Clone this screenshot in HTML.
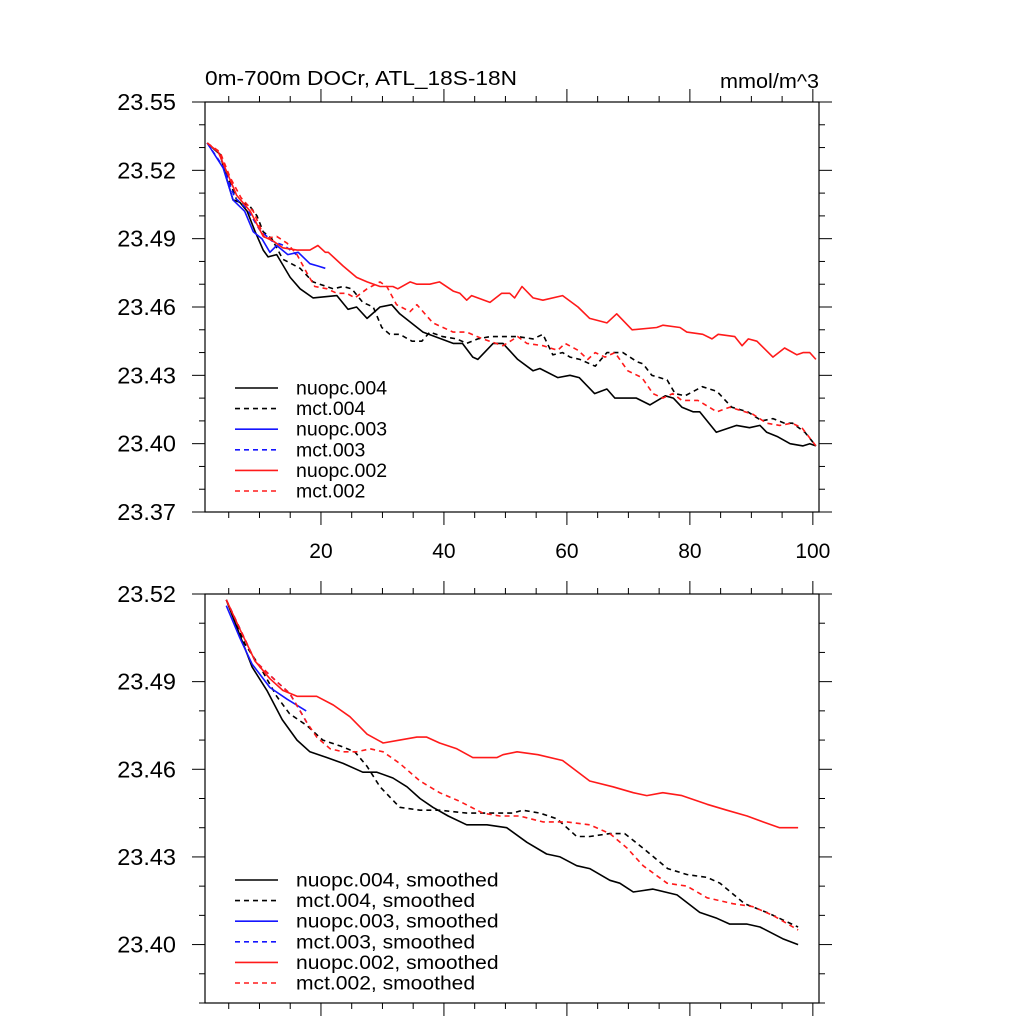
<!DOCTYPE html>
<html><head><meta charset="utf-8">
<style>
html,body{margin:0;padding:0;background:#fff;}
svg{display:block;font-family:"Liberation Sans",Arial,sans-serif;}
</style></head>
<body>
<svg id="chart" width="1024" height="1024" viewBox="0 0 1024 1024" xmlns="http://www.w3.org/2000/svg">
<text id="title" x="205" y="85" font-size="20" textLength="312" lengthAdjust="spacingAndGlyphs">0m-700m DOCr, ATL_18S-18N</text>
<text id="units" x="720" y="88" font-size="20" textLength="99" lengthAdjust="spacingAndGlyphs">mmol/m^3</text>
<g id="top"></g>
<g id="bot"></g>
</svg>
<script>
// ---- data: top panel (raw) ----
const nuopc004X = [1.5,3.6,4.7,5.7,6.8,8,9.3,10.6,11.4,12.8,15,16.6,18.7,22.6,24.4,25.8,27.5,29.6,31.5,32.8,36.6,41.5,43,44.7,45.5,48,49.6,52,54.5,55.6,58.5,60.5,62,64.5,66.5,67.8,71.3,73.5,76,77.3,78.7,80.5,81.6,84.3,87.6,89.7,91.4,92.5,94.3,96.3,98.4,99.5,100.5];
const nuopc004Y = [23.532,23.527,23.516,23.507,23.506,23.502,23.493,23.485,23.482,23.483,23.473,23.468,23.464,23.465,23.459,23.460,23.455,23.460,23.461,23.457,23.449,23.444,23.444,23.438,23.437,23.444,23.444,23.437,23.432,23.433,23.429,23.430,23.429,23.422,23.424,23.420,23.420,23.417,23.421,23.420,23.416,23.414,23.414,23.405,23.408,23.407,23.408,23.405,23.403,23.400,23.399,23.400,23.399];
const mct004X = [1.5,3.6,4.7,6.3,8.5,9.6,10.6,12,13.8,16.6,18.7,22,23.6,25,26.8,28.5,29.9,31.2,32.8,34.8,36.4,37.7,39.8,42.1,43.7,45.5,47.5,49.9,52,54.5,56.1,57.7,59.3,60.5,62.1,64.6,66.5,69.1,71.4,72.4,73.8,76.3,77.6,79.2,82,84.4,86.8,89.4,91.7,93.5,95.4,96.7,98.7,100.5];
const mct004Y = [23.532,23.527,23.518,23.507,23.504,23.500,23.493,23.490,23.481,23.477,23.471,23.468,23.469,23.468,23.462,23.460,23.451,23.448,23.448,23.445,23.445,23.449,23.447,23.446,23.444,23.446,23.447,23.447,23.447,23.446,23.448,23.439,23.440,23.438,23.437,23.434,23.440,23.440,23.436,23.435,23.430,23.428,23.422,23.421,23.425,23.423,23.416,23.414,23.410,23.411,23.409,23.409,23.405,23.399];
const nuopc003X = [1.5,4.1,5.7,7.6,9,10.4,11.7,12.8,14.6,16.3,18.2,19.5,20.7];
const nuopc003Y = [23.532,23.521,23.507,23.502,23.493,23.490,23.484,23.487,23.483,23.484,23.479,23.478,23.477];
const mct003X = [1.5,4,6,8,10,12,14,16];
const mct003Y = [23.532,23.522,23.508,23.503,23.494,23.489,23.487,23.483];
const nuopc002X = [1.5,3.3,5.2,6.3,8.5,10.6,12.2,13.8,16.1,18.2,19.5,20.7,21.2,23.6,25.8,27.5,29.6,31.7,32.5,34.5,35.6,37.7,39.3,41.5,42.6,43.7,44.5,47.5,49.4,50.7,51.5,52.7,54.5,56.1,59.3,61.8,63.7,66.5,68.1,70.6,74.6,75.6,78.4,79.5,82.1,83.6,84.6,87.3,88.5,89.5,90.9,93.5,95.4,97.4,98.4,99.5,100.5];
const nuopc002Y = [23.532,23.528,23.516,23.509,23.502,23.491,23.489,23.486,23.485,23.485,23.487,23.484,23.484,23.478,23.473,23.471,23.469,23.469,23.468,23.471,23.470,23.470,23.471,23.467,23.466,23.463,23.465,23.462,23.466,23.466,23.464,23.469,23.464,23.463,23.465,23.460,23.455,23.453,23.457,23.450,23.451,23.452,23.451,23.449,23.448,23.446,23.448,23.447,23.443,23.446,23.445,23.438,23.442,23.439,23.440,23.440,23.437];
const mct002X = [1.5,3.6,5.2,7,9,10.9,12.8,14.5,16.1,17.7,19,21,22.6,24.2,25.5,27.5,29.6,30.7,32.3,34.5,35.6,38.2,41.5,43.7,46.3,49.6,52,53.5,56.1,58.5,59.7,61.8,63.4,64.6,66.2,67.8,69.9,72.2,74,75.6,77.2,78.7,81.3,84.4,86.5,90.2,92.5,94.6,96.6,98.2,100.5];
const mct002Y = [23.532,23.528,23.517,23.508,23.502,23.490,23.491,23.488,23.483,23.475,23.469,23.468,23.466,23.466,23.464,23.468,23.471,23.469,23.461,23.458,23.461,23.453,23.449,23.449,23.446,23.443,23.447,23.444,23.443,23.441,23.444,23.441,23.437,23.440,23.438,23.440,23.432,23.429,23.422,23.420,23.422,23.419,23.419,23.414,23.416,23.413,23.409,23.408,23.409,23.407,23.399];
// ---- data: bottom panel (smoothed) ----
const sNuopc004X = [4.6,8.8,11.2,13.7,16.1,18.2,21,23.6,26.8,29.1,31.7,34,36.1,38.2,40.7,43.7,47,50.2,53.5,56.7,58.9,61.6,63.7,67,68.6,70.8,74,77.9,81.6,84.4,86.5,89.3,91.4,95.1,97.6];
const sNuopc004Y = [23.518,23.495,23.487,23.477,23.470,23.466,23.464,23.462,23.459,23.459,23.457,23.454,23.450,23.447,23.444,23.441,23.441,23.440,23.435,23.431,23.430,23.427,23.426,23.422,23.421,23.418,23.419,23.417,23.411,23.409,23.407,23.407,23.406,23.402,23.400];
const sMct004X = [4.6,7.6,10.1,12.8,14.9,17.7,20.3,23.1,25.5,27.5,29.6,32.8,36.1,39.3,43.7,47,51.2,52.8,55.6,58.4,61.6,63.7,67,69.4,72.4,76.4,79.5,82.8,84.9,88.9,92.5,97.6];
const sMct004Y = [23.518,23.503,23.495,23.485,23.479,23.475,23.470,23.468,23.466,23.461,23.454,23.447,23.446,23.446,23.445,23.445,23.445,23.446,23.445,23.443,23.437,23.437,23.438,23.438,23.433,23.426,23.424,23.423,23.421,23.414,23.411,23.406];
const sNuopc003X = [4.6,6.8,8.8,11.7,14.5,17.6];
const sNuopc003Y = [23.516,23.505,23.496,23.488,23.484,23.480];
const sMct003X = [4.6,9.3,12.8,14.9,16.6,17.7];
const sMct003Y = [23.518,23.497,23.490,23.486,23.480,23.476];
const sNuopc002X = [4.6,6.8,9.3,11.7,13.8,16.1,19.3,22,24.7,27.5,30.1,32.8,35.6,37.2,39.3,42.1,44.7,47,48.6,49.6,51.9,55.3,59.3,63.7,67.5,70.8,73,75.6,78.7,82.8,86,89.3,91.9,94.6,97.6];
const sNuopc002Y = [23.518,23.508,23.497,23.491,23.487,23.485,23.485,23.482,23.478,23.472,23.469,23.470,23.471,23.471,23.469,23.467,23.464,23.464,23.464,23.465,23.466,23.465,23.463,23.456,23.454,23.452,23.451,23.452,23.451,23.448,23.446,23.444,23.442,23.440,23.440];
const sMct002X = [4.6,9.3,12.8,14.9,16.6,17.7,19.3,21.5,23.6,25.8,28,30.1,32.8,36.1,39.3,42.6,46.3,49.1,52.3,56.1,60,63.7,67,69.8,72.4,76.3,79.5,82.8,87,90.2,93.5,97.6];
const sMct002Y = [23.518,23.497,23.490,23.486,23.480,23.476,23.471,23.467,23.466,23.466,23.467,23.466,23.462,23.456,23.452,23.449,23.445,23.444,23.444,23.442,23.442,23.441,23.438,23.433,23.427,23.421,23.420,23.416,23.414,23.413,23.410,23.405];

const topYTicks = ["23.37","23.40","23.43","23.46","23.49","23.52","23.55"];
const botYTicks = ["23.40","23.43","23.46","23.49","23.52"];
const xTickLabels = ["20","40","60","80","100"];
const topLegend = ["nuopc.004","mct.004","nuopc.003","mct.003","nuopc.002","mct.002"];
const botLegend = ["nuopc.004, smoothed","mct.004, smoothed","nuopc.003, smoothed","mct.003, smoothed","nuopc.002, smoothed","mct.002, smoothed"];

const NS='http://www.w3.org/2000/svg';
function mk(parent, tag, attrs){const e=document.createElementNS(NS,tag);for(const k in attrs)e.setAttribute(k,attrs[k]);parent.appendChild(e);return e;}

function panel(g, o){
  const L=205,R=819,T=o.top,B=o.bottom, xmin=1.14,xmax=101;
  const sx=v=>L+(v-xmin)/(xmax-xmin)*(R-L);
  const sy=v=>B-(v-o.ymin)/(o.ymax-o.ymin)*(B-T);
  const frame=mk(g,'rect',{x:L,y:T,width:R-L,height:B-T,fill:'none',stroke:'#000','stroke-width':1.2});
  
  
  for(let v=5;v<=100;v+=5){
    const major=v%20===0, len=major?13:6, x=sx(v);
    const t1=mk(g,'line',{x1:x,x2:x,y1:B,y2:B+len,stroke:'#000','stroke-width':1});
    
    
    const t2=mk(g,'line',{x1:x,x2:x,y1:T,y2:T-len,stroke:'#000','stroke-width':1});
    
    
  }
  if(o.xlabels){
    xTickLabels.forEach(s=>{
      const t=mk(g,'text',{x:sx(+s),y:B+46,'font-size':21,'text-anchor':'middle'});
      t.textContent=s;
      
      
    });
  }
  const n=Math.round((o.ymax-o.ymin)/0.01);
  for(let i=0;i<=n;i++){
    const v=o.ymin+i*0.01, y=sy(v);
    const major=Math.abs(((v-o.ymajor0)/0.03)-Math.round((v-o.ymajor0)/0.03))<1e-6, len=major?13:6;
    const a=mk(g,'line',{x1:L,x2:L-len,y1:y,y2:y,stroke:'#000','stroke-width':1});
    
    
    const b=mk(g,'line',{x1:R,x2:R+len,y1:y,y2:y,stroke:'#000','stroke-width':1});
    
    
  }
  o.yticks.forEach(s=>{
    const t=mk(g,'text',{x:176,y:sy(+s)+8,'font-size':23.5,'text-anchor':'end'});
    t.textContent=s;
    
    
  });
  const cols=['#000','#000','#1515ff','#1515ff','#ff1a1a','#ff1a1a'];
  const dash=[null,'5,4',null,'5,4',null,'5,4'];
  [0,1,2,3,4,5].forEach(i=>{
    const xs=o.series[i][0], ys=o.series[i][1];
    const d=xs.map((x,j)=>(j?'L':'M')+sx(x).toFixed(1)+','+sy(ys[j]).toFixed(1)).join('');
    const p=mk(g,'path',{d:d,fill:'none',stroke:cols[i],'stroke-width':1.6,'stroke-linejoin':'round'});
    if(dash[i])p.setAttribute('stroke-dasharray',dash[i]);
    
    
  });
  o.legend.forEach((s,i)=>{
    const y=o.legY+i*20.6;
    const l=mk(g,'line',{x1:235,x2:278,y1:y,y2:y,stroke:cols[i],'stroke-width':1.6});
    if(dash[i])l.setAttribute('stroke-dasharray','5,4');
    
    
    const t=mk(g,'text',{x:296,y:y+6.5,'font-size':19.5});
    t.textContent=s;
    
    
    if(o.legScale!==1){
      const w=t.getComputedTextLength();
      if(w>0){t.setAttribute('textLength',(w*o.legScale).toFixed(1));t.setAttribute('lengthAdjust','spacingAndGlyphs');}
    }
  });
}
panel(document.getElementById('top'),{name:'raw',top:102,bottom:512,ymin:23.37,ymax:23.55,ymajor0:23.37,yticks:topYTicks,xlabels:true,
  legend:topLegend,legY:388,legScale:1,
  series:[[nuopc004X,nuopc004Y],[mct004X,mct004Y],[nuopc003X,nuopc003Y],[mct003X,mct003Y],[nuopc002X,nuopc002Y],[mct002X,mct002Y]]});
panel(document.getElementById('bot'),{name:'smoothed',top:594,bottom:1003,ymin:23.38,ymax:23.52,ymajor0:23.40,yticks:botYTicks,xlabels:false,
  legend:botLegend,legY:880,legScale:1.08,
  series:[[sNuopc004X,sNuopc004Y],[sMct004X,sMct004Y],[sNuopc003X,sNuopc003Y],[sMct003X,sMct003Y],[sNuopc002X,sNuopc002Y],[sMct002X,sMct002Y]]});
</script>
</body></html>
